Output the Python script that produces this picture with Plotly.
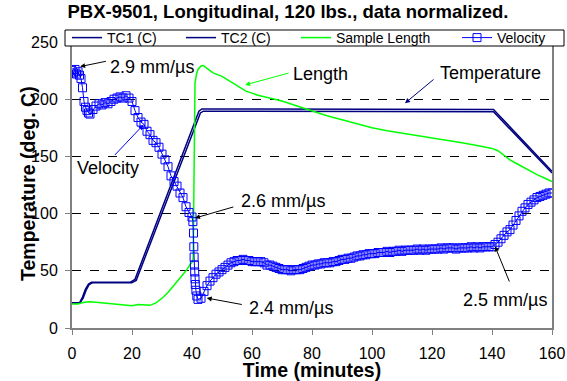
import plotly.graph_objects as go

# ---------------- data ----------------
tc1_t = [0, 2.5, 3.5, 4.5, 5.5, 6.5, 19.5, 21, 42.3, 43.3, 140.5, 160]
tc1_v = [22, 22, 27, 34, 38.5, 40, 40, 42.5, 189.5, 191.5, 191, 137]
tc2_t = [0, 2.7, 3.7, 4.7, 5.7, 6.8, 19.9, 21.4, 42.8, 43.8, 140.5, 160]
tc2_v = [22, 22, 26, 33, 38, 39.5, 39.5, 41.5, 188, 189.5, 189, 135.5]

len_t = [0, 2, 4, 6, 8, 10, 14, 18, 20, 22, 24, 26, 28, 30, 32, 34, 36, 38, 39.5,
         40.2, 40.4, 40.6, 40.8, 41.0, 41.5, 42, 43, 43.8, 45, 47, 50, 53, 55, 58,
         62, 66, 70, 75, 80, 85, 90, 95, 100, 105, 110, 115, 120, 125, 130, 135,
         140, 142, 144, 146, 148, 150, 152, 155, 158, 160]
len_v = [21, 21, 22.5, 23, 22.5, 22, 21, 20, 19.5, 20.5, 20, 19.8, 22, 26, 31, 37,
         43, 50, 56, 58, 62, 120, 190, 214, 222, 226, 229, 229.5, 227, 223, 220,
         215, 212, 207, 203.5, 201, 198.5, 194, 189.5, 185.5, 182, 178.5, 175,
         172.5, 170.5, 168.5, 166.5, 164, 162, 159.5, 157, 155, 151, 147, 144,
         141, 138, 134, 130.5, 128]

vel_t = [0, 0.5, 1, 1.5, 2, 2.5, 3, 3.5, 4, 4.5, 5, 5.5, 6, 7, 8, 9, 10, 11, 12,
         13, 14, 15, 16, 17, 18, 19, 20, 21, 22, 23, 24, 25, 26, 27, 28, 29, 30,
         31, 32, 33, 34, 35, 36, 37, 38, 39, 40, 40.3, 40.5, 40.6, 40.7, 40.8,
         40.9, 41.0, 41.1, 41.3, 41.6, 42, 43, 44, 45, 46, 47, 48, 49, 50, 51,
         52, 53, 54, 55, 56, 57, 58, 59, 60, 61, 62, 63, 64, 65, 66, 67, 68, 69,
         70, 71, 72, 73, 74, 75, 76, 77, 78, 79, 80, 81, 82, 83, 84, 85, 86, 87,
         88, 89, 90, 91, 92, 93, 94, 95, 96, 97, 98, 99, 100, 101, 102, 103, 104,
         105, 106, 107, 108, 109, 110, 111, 112, 113, 114, 115, 116, 117, 118,
         119, 120, 121, 122, 123, 124, 125, 126, 127, 128, 129, 130, 131, 132,
         133, 134, 135, 136, 137, 138, 139, 140, 141, 142, 143, 144, 145, 146,
         147, 148, 149, 150, 151, 152, 153, 154, 155, 156, 157, 158, 159, 160]
vel_v = [225, 223, 226, 222, 224, 221, 218, 210, 198, 193, 190, 188, 187, 191,
         194, 196, 195, 197, 196, 198, 200, 201, 202, 201, 203, 201, 198, 190,
         184, 180, 178, 172, 169, 164, 162, 158, 152, 147, 141, 133, 128, 124,
         118, 114, 106, 101, 97, 93, 83, 71, 62, 55, 49, 43, 38, 33, 28, 25, 26,
         32, 37, 41, 44, 47, 49, 51, 53, 55, 57, 58, 59, 59, 60, 59, 59, 58, 58,
         58, 58, 57, 55, 55, 54, 53, 52, 51, 51, 51, 50, 51, 51, 51, 52, 53, 54,
         55, 55, 56, 56, 57, 57, 57, 58, 58, 59, 60, 60, 61, 61, 62, 63, 63, 64,
         64, 65, 65, 65, 66, 66, 66, 67, 66, 67, 67, 68, 67, 68, 68, 68, 68, 69,
         68, 69, 68, 69, 69, 69, 69, 70, 69, 70, 70, 70, 69, 70, 70, 70, 70, 71,
         70, 71, 70, 71, 71, 71, 71, 73, 75, 78, 81, 84, 86, 90, 94, 98, 102, 105,
         108, 110, 112, 114, 115, 116, 117, 118, 118]

x_ticks = [0, 20, 40, 60, 80, 100, 120, 140, 160]
y_ticks = [0, 50, 100, 150, 200, 250]

FONT = "Liberation Sans, Arial, sans-serif"
NAVY = "#000080"

fig = go.Figure()
fig.add_trace(go.Scatter(x=tc1_t, y=tc1_v, mode="lines", name="TC1 (C)",
                         line=dict(color=NAVY, width=1.5), legend="legend"))
fig.add_trace(go.Scatter(x=tc2_t, y=tc2_v, mode="lines", name="TC2 (C)",
                         line=dict(color=NAVY, width=1.5), legend="legend2"))
fig.add_trace(go.Scatter(x=len_t, y=len_v, mode="lines", name="Sample Length",
                         line=dict(color="#00FF00", width=1.5), legend="legend3"))
fig.add_trace(go.Scatter(x=vel_t, y=vel_v, mode="lines+markers", name="Velocity",
                         line=dict(color="#0000FF", width=1),
                         marker=dict(symbol="square-open", size=8,
                                     color="#0000FF", line=dict(width=1)),
                         legend="legend4"))

PLOT_L, PLOT_R, PLOT_T, PLOT_B = 72, 15, 42, 53
W, H = 567, 381
pw, ph = W - PLOT_L - PLOT_R, H - PLOT_T - PLOT_B


def px_x(px):
    return (px - PLOT_L) / pw


def px_y(py):
    return (H - PLOT_B - py) / ph


leg_common = dict(orientation="h", bgcolor="rgba(0,0,0,0)", borderwidth=0,
                  font=dict(family=FONT, size=14, color="black"),
                  itemwidth=30, xref="container", yref="container",
                  xanchor="left", yanchor="middle", y=1 - 38 / H)
fig.update_layout(
    showlegend=True,
    legend=dict(leg_common, x=67 / W),
    legend2=dict(leg_common, x=181 / W),
    legend3=dict(leg_common, x=296 / W),
    legend4=dict(leg_common, x=457 / W),
)

fig.add_shape(type="rect", xref="paper", yref="paper",
              x0=px_x(65), x1=px_x(564), y0=px_y(46), y1=px_y(30),
              line=dict(color="black", width=1), fillcolor="white", layer="above")

axis_common = dict(showline=True, linecolor="#808080", linewidth=2, mirror=True,
                   ticks="outside", ticklen=5, tickcolor="#808080", tickwidth=1,
                   tickfont=dict(family=FONT, size=16, color="black"),
                   zeroline=False, automargin=False)
fig.update_xaxes(axis_common, range=[0, 160], tickvals=x_ticks, showgrid=False,
                 ticklabelstandoff=5,
                 title=dict(text="<b>Time (minutes)</b>", standoff=3,
                            font=dict(family=FONT, size=19.5, color="black")))
fig.update_yaxes(axis_common, range=[0, 250], tickvals=y_ticks, showgrid=True,
                 ticklabelstandoff=4,
                 gridcolor="black", gridwidth=1, griddash="dash")

fig.update_layout(
    width=W, height=H,
    margin=dict(l=PLOT_L, r=PLOT_R, t=PLOT_T, b=PLOT_B, autoexpand=False),
    paper_bgcolor="white", plot_bgcolor="white",
    font=dict(family=FONT, color="black"),
    title=dict(text="<b>PBX-9501, Longitudinal, 120 lbs., data normalized.</b>",
               x=288 / W, xref="container", xanchor="center",
               y=1 - 12 / H, yref="container", yanchor="middle",
               font=dict(family=FONT, size=18.5, color="black")),
)

# y axis title as annotation (overlaps tick label column like the original)
fig.add_annotation(text="<b>Temperature (deg. C)</b>", textangle=-90,
                   xref="paper", yref="paper", x=px_x(28), y=px_y(184),
                   xanchor="center", yanchor="middle",
                   showarrow=False, font=dict(family=FONT, size=19.5, color="black"))

# text labels (center positions) and arrows (tail -> head), in data coordinates
labels = [
    ("2.9 mm/µs", 26.5, 228.5),
    ("Velocity", 12.1, 139.7),
    ("Length", 82.9, 222.1),
    ("Temperature", 139.6, 222.7),
    ("2.6 mm/µs", 70.2, 110.6),
    ("2.4 mm/µs", 72.9, 17.5),
    ("2.5 mm/µs", 144.3, 24.7),
]
arrows = [
    (11.8, 233.4, 2.7, 228.5, "black"),
    (13.8, 149.9, 23.8, 177.6, "#0000FF"),
    (72.7, 223.2, 57.7, 212.5, "#00FF00"),
    (121.0, 218.3, 111.0, 196.5, NAVY),
    (54.3, 106.2, 41.0, 96.1, "black"),
    (57.1, 20.3, 44.9, 26.2, "black"),
    (146.0, 39.3, 141.0, 71.3, "black"),
]
for txt, x, y in labels:
    fig.add_annotation(text=txt, x=x, y=y, xref="x", yref="y", showarrow=False,
                       xanchor="center", yanchor="middle",
                       font=dict(family=FONT, size=18, color="black"))
for x0, y0, x1, y1, c in arrows:
    fig.add_annotation(text="", x=x1, y=y1, ax=x0, ay=y0, xref="x", yref="y",
                       axref="x", ayref="y", showarrow=True, arrowhead=2,
                       arrowsize=1, arrowwidth=1, arrowcolor=c)

# remove the browser's default 8px page margin so the figure sits at (0, 0)
fig.write_html("out.html", config={"displayModeBar": False},
               post_script="document.body.style.margin='0px';")
